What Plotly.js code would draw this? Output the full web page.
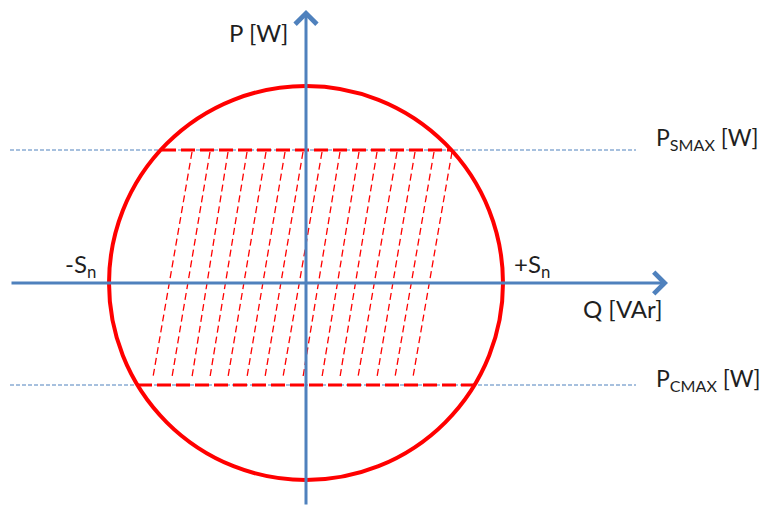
<!DOCTYPE html>
<html>
<head>
<meta charset="utf-8">
<script src="https://cdn.plot.ly/plotly-3.0.1.min.js"></script>
<style>
  html, body { margin: 0; padding: 0; background: #fff; }
  #chart { width: 764px; height: 506px; }
</style>
</head>
<body>
<div id="chart"></div>
<script>
// capability circle, units roughly in px around the origin
var sn = 197;
var pSmax = 133;
var pCmax = -102;

// hatching lines (slanted dashes), Q at the top and bottom end of each
var hatchTopP = 131;
var hatchBottomP = -94;
var hatchTopQ = [-114, -96, -78, -59, -40, -21, -3, 16, 34, 53, 71, 91, 109, 128, 146];
var hatchBottomQ = [-153, -134, -114, -96, -78, -59, -41, -23, -3, 16, 34, 52, 71, 89, 107];

// limits drawn in red (chords of the circle)
var smaxQ = [-144, 146];
var cmaxQ = [-168, 168];

// axis and guide extents
var qAxis = [-296, 362];
var pAxis = [-223, 273];
var guideQ = [-296, 330];

var red = "#ff0000";
var blue = "#4f81bd";
var txt = "#1f1f1f";

var data = [];

for (var i = 0; i < hatchTopQ.length; i++) {
  data.push({
    x: [hatchTopQ[i], hatchBottomQ[i]],
    y: [hatchTopP, hatchBottomP],
    mode: "lines",
    line: { color: red, width: 1.3, dash: "7px,4px" },
    hoverinfo: "skip",
  });
}

// blue dashed guides
data.push({
  x: guideQ,
  y: [pSmax, pSmax],
  mode: "lines",
  line: { color: blue, width: 1, dash: "4px,2px" },
  hoverinfo: "skip",
});
data.push({
  x: guideQ,
  y: [pCmax, pCmax],
  mode: "lines",
  line: { color: blue, width: 1, dash: "4px,2px" },
  hoverinfo: "skip",
});

// red limit edges
data.push({
  x: smaxQ,
  y: [pSmax, pSmax],
  mode: "lines",
  line: { color: red, width: 3, dash: "14px,5px" },
  hoverinfo: "skip",
});
data.push({
  x: cmaxQ,
  y: [pCmax, pCmax],
  mode: "lines",
  line: { color: red, width: 3, dash: "14px,5px" },
  hoverinfo: "skip",
});

var layout = {
  width: 764,
  height: 506,
  margin: { l: 0, r: 0, t: 0, b: 0 },
  paper_bgcolor: "#fff",
  plot_bgcolor: "#fff",
  showlegend: false,
  xaxis: { range: [-306, 458], visible: false, fixedrange: true },
  yaxis: { range: [-223, 283], visible: false, fixedrange: true },
  font: { family: "Lato, 'Open Sans', sans-serif", size: 24, color: txt },
  shapes: [
    {
      type: "circle",
      xref: "x", yref: "y",
      x0: -sn, x1: sn, y0: -sn, y1: sn,
      line: { color: red, width: 4 },
      layer: "above",
    },
  ],
  annotations: [
    // Q axis arrow
    {
      x: qAxis[1], y: 0, ax: qAxis[0], ay: 0,
      xref: "x", yref: "y", axref: "x", ayref: "y",
      text: "", showarrow: true,
      arrowhead: 4, arrowsize: 1.4, arrowwidth: 3, arrowcolor: blue,
    },
    // P axis arrow
    {
      x: 0, y: pAxis[1], ax: 0, ay: pAxis[0],
      xref: "x", yref: "y", axref: "x", ayref: "y",
      text: "", showarrow: true,
      arrowhead: 4, arrowsize: 1.4, arrowwidth: 3, arrowcolor: blue,
    },
    { x: -48, y: 251, xref: "x", yref: "y", text: "P [W]", showarrow: false },
    { x: 317, y: -25, xref: "x", yref: "y", text: "Q [VAr]", showarrow: false },
    { x: 206, y: 18, xref: "x", yref: "y", xanchor: "left", text: "+S<sub>n</sub>", showarrow: false },
    { x: -243, y: 18, xref: "x", yref: "y", xanchor: "left", text: "-S<sub>n</sub>", showarrow: false },
    { x: 348, y: 145, xref: "x", yref: "y", xanchor: "left", font: { size: 23 }, text: "P<sub>SMAX</sub> [W]", showarrow: false },
    { x: 348, y: -96, xref: "x", yref: "y", xanchor: "left", font: { size: 23 }, text: "P<sub>CMAX</sub> [W]", showarrow: false },
  ],
};

Plotly.newPlot("chart", data, layout, { displayModeBar: false, staticPlot: true });
</script>
</body>
</html>
